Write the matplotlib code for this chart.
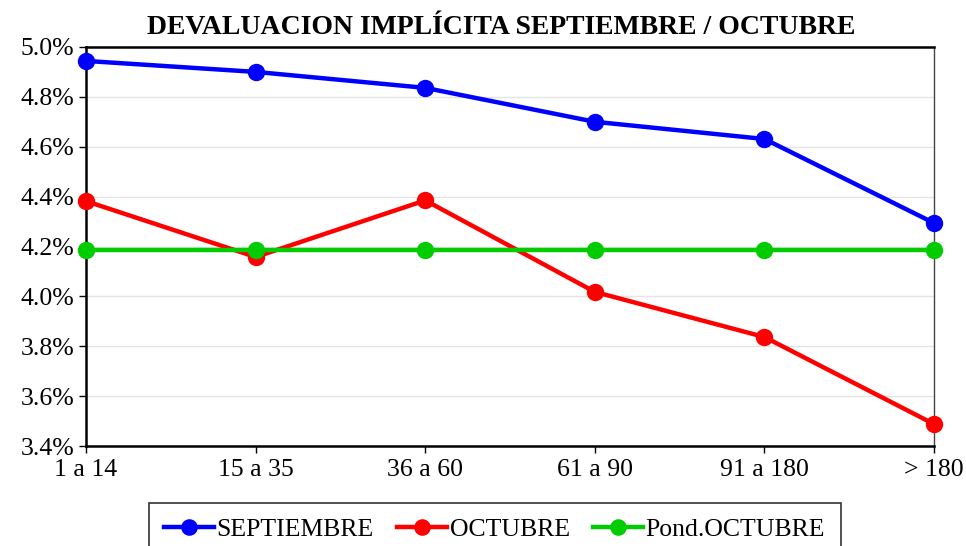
import numpy as np
from matplotlib import pyplot as plt
from matplotlib.ticker import FuncFormatter

plt.rcParams['font.family'] = ['Liberation Serif', 'DejaVu Serif']

plazos = ['1 a 14', '15 a 35', '36 a 60', '61 a 90', '91 a 180', '> 180']
septiembre = [4.944, 4.900, 4.836, 4.700, 4.631, 4.294]
octubre = [4.382, 4.158, 4.385, 4.018, 3.837, 3.488]
pond_octubre = [4.186, 4.186, 4.186, 4.186, 4.186, 4.186]

fig = plt.figure(figsize=(9.66, 5.46), dpi=100)
ax = fig.add_axes([0.089, 0.183, 0.878, 0.731])

x = np.arange(len(plazos))
ax.plot(x, septiembre, color='#0000ff', lw=3.2, marker='o', ms=11.5, label='SEPTIEMBRE', clip_on=False, zorder=3)
ax.plot(x, octubre, color='#ff0000', lw=3.2, marker='o', ms=11.5, label='OCTUBRE', clip_on=False, zorder=4)
ax.plot(x, pond_octubre, color='#00cc00', lw=3.2, marker='o', ms=11.5, label='Pond.OCTUBRE', clip_on=False, zorder=5)

ax.set_xlim(0, len(plazos) - 1)
ax.set_ylim(3.4, 5.0)
ax.set_yticks(np.arange(3.4, 5.01, 0.2))
ax.yaxis.set_major_formatter(FuncFormatter(lambda v, p: '%.1f%%' % v))
ax.set_xticks(x)
ax.set_xticklabels(plazos)
ax.tick_params(labelsize=18.5, direction='out', length=5, width=1)
ax.tick_params(axis='x', pad=4)
ax.grid(axis='y', color='#e4e4e4', lw=1)
ax.set_axisbelow(True)
for s in ['left', 'bottom', 'top']:
    ax.spines[s].set_linewidth(1.8)
ax.spines['right'].set_linewidth(1.0)
ax.spines['right'].set_color('#444444')

ax.set_title('DEVALUACION IMPLÍCITA SEPTIEMBRE / OCTUBRE', fontsize=20, fontweight='bold', pad=9, x=0.489)

leg = fig.legend(loc='upper center', bbox_to_anchor=(0.512, 0.079), ncol=3, fontsize=18.5,
                 frameon=True, fancybox=False, edgecolor='black', handlelength=1.95,
                 handletextpad=0.1, columnspacing=0.9, borderpad=0.6, borderaxespad=0,
                 markerscale=0.95)
leg.get_frame().set_linewidth(1.2)

fig.savefig('out.png', dpi=100)
